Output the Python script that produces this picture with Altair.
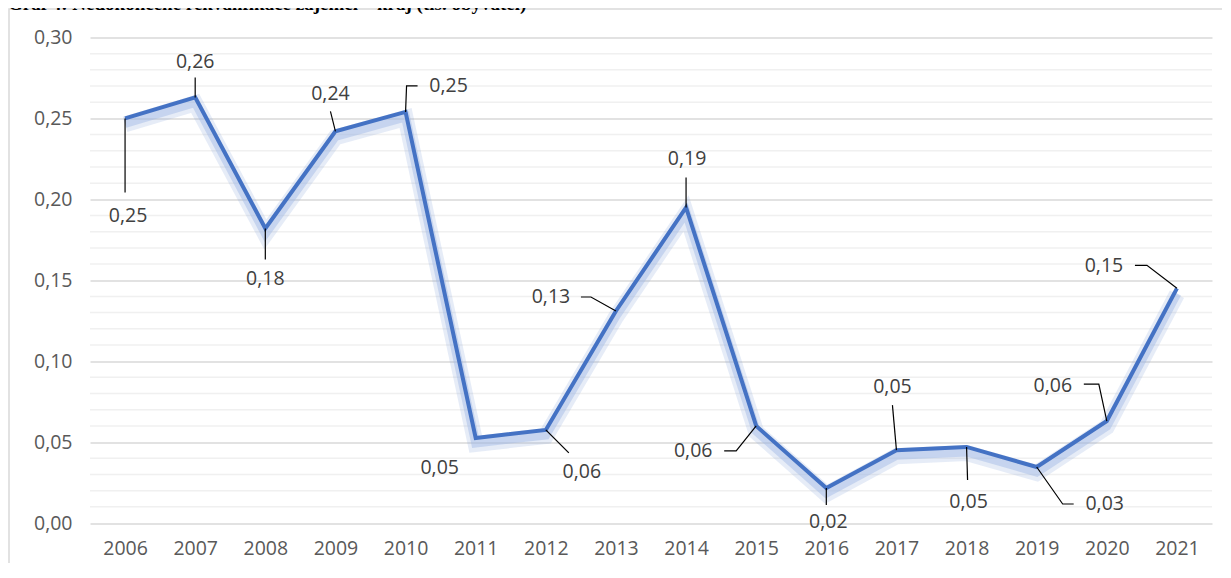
import altair as alt
import pandas as pd

# ---- data ----
years = list(range(2006, 2022))
values = [0.250, 0.263, 0.182, 0.242, 0.254, 0.0525, 0.0575, 0.131,
          0.195, 0.060, 0.0216, 0.045, 0.047, 0.0346, 0.063, 0.145]
labels = ["0,25", "0,26", "0,18", "0,24", "0,25", "0,05", "0,06", "0,13",
          "0,19", "0,06", "0,02", "0,05", "0,05", "0,03", "0,06", "0,15"]
y_ticks = [0.0, 0.05, 0.10, 0.15, 0.20, 0.25, 0.30]
minor_ticks = [round(i * 0.01, 2) for i in range(31) if i % 5 != 0]
title_text = "Graf 4: Nedokončené rekvalifikace zájemci – kraj (tis. obyvatel)"

# ---- label placement (pixel offsets from each point; styling) ----
label_off = [(3, 98), (0, -35), (0, 51), (-5, -37), (43, -26), (-36, 30),
             (36, 42), (-65, -14), (1, -48), (-63, 25), (2, 34), (-4, -63),
             (2, 55), (68, 37), (-54, -35), (-73, -22)]
leader_paths = [
    [(0, 0), (0, 74)],
    [(0, 0), (0, -20)],
    [(0, 0), (0, 31)],
    [(0, 0), (-5, -20)],
    [(0, 0), (1, -26), (12, -26)],
    [],
    [(0, 0), (23, 23)],
    [(0, 0), (-25, -14), (-35, -14)],
    [(0, 0), (0, -30)],
    [(0, 0), (-20, 25), (-32, 25)],
    [(0, 0), (0, 17)],
    [(0, 0), (-4, -45)],
    [(0, 0), (1, 33)],
    [(0, 0), (26, 37), (37, 37)],
    [(0, 0), (-8, -37), (-23, -37)],
    [(0, 0), (-30, -23), (-42, -23)],
]

W = 1122
H = 485.5
X_DOMAIN = [2005.5, 2021.5]
Y_DOMAIN = [0, 0.30]
ppy = W / (X_DOMAIN[1] - X_DOMAIN[0])
ppu = H / (Y_DOMAIN[1] - Y_DOMAIN[0])

df = pd.DataFrame({"year": years, "value": values, "label": labels})

lab_rows = []
for yr, v, lb, (dx, dy) in zip(years, values, labels, label_off):
    lab_rows.append({"x": yr + dx / ppy, "y": v - dy / ppu, "label": lb})
lab_df = pd.DataFrame(lab_rows)

lead_rows = []
for i, (yr, v, path) in enumerate(zip(years, values, leader_paths)):
    for k, (dx, dy) in enumerate(path):
        lead_rows.append({"id": i, "order": k, "x": yr + dx / ppy, "y": v - dy / ppu})
lead_df = pd.DataFrame(lead_rows)

FONT = "Open Sans"
FS = 19.5

xs = alt.Scale(domain=X_DOMAIN, nice=False, zero=False)
ys = alt.Scale(domain=Y_DOMAIN, nice=False, zero=False)

x_axis = alt.Axis(values=years, format="d", grid=False, ticks=False,
                  domain=False, labelFont=FONT, labelFontSize=FS,
                  labelColor="#595959", labelPadding=16, labelOverlap=False)
y_axis = alt.Axis(values=y_ticks, grid=True, gridColor="#d9d9d9",
                  gridWidth=1.5, ticks=False, domain=False,
                  labelFont=FONT, labelFontSize=FS, labelColor="#595959",
                  labelPadding=18,
                  labelExpr="replace(format(datum.value, '.2f'), '.', ',')")


def X(field):
    return alt.X(field, scale=xs, title=None, axis=x_axis)


def Y(field):
    return alt.Y(field, scale=ys, title=None, axis=y_axis)


frame = alt.Chart(alt.Data(values=[{"a": 1}])).mark_rect(
    fill=None, stroke="#d9d9d9", strokeWidth=1.5
).encode(
    x=alt.value(-81), x2=alt.value(W + 40),
    y=alt.value(-28.5), y2=alt.value(H + 80),
)

title = alt.Chart(alt.Data(values=[{"t": title_text}])).mark_text(
    font="Liberation Serif", fontSize=19, fontWeight="bold", color="#000000",
    align="left", baseline="alphabetic"
).encode(
    x=alt.value(-82), y=alt.value(-27.5), text="t:N"
)

minor = alt.Chart(pd.DataFrame({"v": minor_ticks})).mark_rule(
    color="#f0f0f0", strokeWidth=1.5
).encode(
    y=Y("v:Q"),
    x=alt.value(0), x2=alt.value(W),
)

base = alt.Chart(df)

glow1 = base.mark_line(color="#8faadc", strokeWidth=16, opacity=0.22, yOffset=6).encode(
    x=X("year:Q"), y=Y("value:Q"),
)
glow2 = base.mark_line(color="#9fb8e4", strokeWidth=9, opacity=0.45, yOffset=5).encode(
    x=X("year:Q"), y=Y("value:Q"),
)
main_line = base.mark_line(color="#4472C4", strokeWidth=4, strokeJoin="miter").encode(
    x=X("year:Q"), y=Y("value:Q"),
)

leaders = alt.Chart(lead_df).mark_line(color="#000000", strokeWidth=1.2).encode(
    x=X("x:Q"), y=Y("y:Q"),
    detail="id:N",
    order="order:Q",
)

texts = alt.Chart(lab_df).mark_text(
    font=FONT, fontSize=FS, color="#404040", align="center", baseline="middle"
).encode(
    x=X("x:Q"), y=Y("y:Q"),
    text="label:N",
)

chart = alt.layer(
    frame, minor, glow1, glow2, main_line, leaders, texts, title
).properties(
    width=W, height=H,
    autosize=alt.AutoSizeParams(type="none"),
    padding={"left": 82, "top": 29.5, "right": 10, "bottom": 40},
).configure_view(stroke=None)

chart.save("out.html", embed_options={"renderer": "svg", "actions": False})
